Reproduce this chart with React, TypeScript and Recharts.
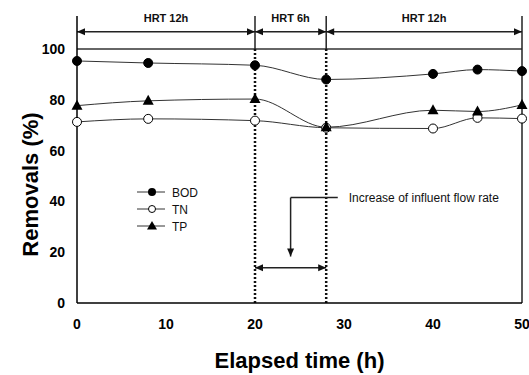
import React from "react";
import { LineChart, Line, XAxis, YAxis, ReferenceLine, Legend } from "recharts";

const times = [0, 8, 20, 28, 40, 45, 50];
const bod = [95.3, 94.5, 93.6, 88, 90.2, 91.9, 91.3];
const tn = [71.3, 72.5, 71.8, 69, 68.7, 72.9, 72.6];
const tp = [77.7, 79.6, 80.3, 69.2, 75.9, 75.4, 78.0];
const xTicks = [0, 10, 20, 30, 40, 50];
const yTicks = [0, 20, 40, 60, 80, 100];
const periods = [
  { from: 0, to: 20, label: "HRT 12h" },
  { from: 20, to: 28, label: "HRT 6h" },
  { from: 28, to: 50, label: "HRT 12h" },
];

const data = times.map((t, i) => ({ t, bod: bod[i], tn: tn[i], tp: tp[i] }));

const FONT = "'Liberation Sans', Arial, sans-serif";

function head(x: number, y: number, dx: number, dy: number, key: string) {
  // triangle pointing in direction (dx, dy)
  const len = 8;
  const w = 3.5;
  const bx = x - dx * len;
  const by = y - dy * len;
  const px = -dy * w;
  const py = dx * w;
  return (
    <polygon
      key={key}
      points={`${x},${y} ${bx + px},${by + py} ${bx - px},${by - py}`}
      fill="#111"
    />
  );
}

function ArrowShape(p: any, opts: { start?: boolean; end?: boolean; text?: string; note?: string }) {
  const { x1, y1, x2, y2 } = p;
  const L = Math.hypot(x2 - x1, y2 - y1) || 1;
  const dx = (x2 - x1) / L;
  const dy = (y2 - y1) / L;
  return (
    <g>
      <line x1={x1} y1={y1} x2={x2} y2={y2} stroke="#222" strokeWidth={1.5} />
      {opts.start && head(x1, y1, -dx, -dy, "s")}
      {opts.end && head(x2, y2, dx, dy, "e")}
      {opts.text && (
        <text x={(x1 + x2) / 2} y={y1 - 10} textAnchor="middle" fontFamily={FONT} fontWeight="bold" fontSize={11} fill="#111">
          {opts.text}
        </text>
      )}
      {opts.note && (
        <text x={x2 + 11} y={y2 + 4} textAnchor="start" fontFamily={FONT} fontSize={12} fill="#111">
          {opts.note}
        </text>
      )}
    </g>
  );
}

const Triangle = (p: any) => {
  const { cx, cy } = p;
  if (cx == null || cy == null) return null;
  return <polygon points={`${cx},${cy - 6} ${cx - 5.5},${cy + 4} ${cx + 5.5},${cy + 4}`} fill="#000" />;
};

const legendItems = [
  { name: "BOD", kind: "fill" },
  { name: "TN", kind: "open" },
  { name: "TP", kind: "tri" },
];

const LegendBox = () => (
  <svg width={80} height={56}>
    {legendItems.map((it, i) => {
      const y = 8 + i * 17;
      return (
        <g key={it.name}>
          <line x1={0} y1={y} x2={28} y2={y} stroke="#333" strokeWidth={1} />
          {it.kind === "fill" && <circle cx={15} cy={y} r={4} fill="#000" />}
          {it.kind === "open" && <circle cx={15} cy={y} r={3.5} fill="#fff" stroke="#000" />}
          {it.kind === "tri" && <polygon points={`15,${y - 5} 10,${y + 3.5} 20,${y + 3.5}`} fill="#000" />}
          <text x={35} y={y + 4.5} fontFamily={FONT} fontSize={12} fill="#111">
            {it.name}
          </text>
        </g>
      );
    })}
  </svg>
);

export default function App() {
  return (
    <div style={{ position: "absolute", left: 0, top: 0, background: "#fff" }}>
      <LineChart width={529} height={375} data={data} margin={{ top: 16, right: 7, left: 0, bottom: 0 }}>
        <XAxis
          dataKey="t"
          type="number"
          domain={[0, 50]}
          ticks={xTicks}
          height={72}
          tickLine={false}
          tickSize={0}
          tickMargin={16}
          axisLine={{ stroke: "#000", strokeWidth: 1.5 }}
          tick={{ fill: "#000", fontFamily: FONT, fontWeight: "bold", fontSize: 14 }}
          label={{
            value: "Elapsed time (h)",
            position: "insideBottom",
            offset: 7,
            style: { fontFamily: FONT, fontWeight: "bold", fontSize: 22, fill: "#000" },
          }}
        />
        <YAxis
          type="number"
          domain={[0, 113]}
          ticks={yTicks}
          width={77}
          tickLine={false}
          tickSize={0}
          tickMargin={12}
          axisLine={{ stroke: "#000", strokeWidth: 1.5 }}
          tick={{ fill: "#000", fontFamily: FONT, fontWeight: "bold", fontSize: 14 }}
          label={(p: any) => {
            const vb = p.viewBox || { x: 0, y: 16, width: 77, height: 287 };
            const cx = 30;
            const cy = vb.y + vb.height / 2 + 25;
            return (
              <text
                x={cx}
                y={cy}
                transform={`rotate(-90, ${cx}, ${cy})`}
                textAnchor="middle"
                dominantBaseline="central"
                fontFamily={FONT}
                fontWeight="bold"
                fontSize={22}
                fill="#000"
              >
                Removals (%)
              </text>
            );
          }}
        />
        <ReferenceLine y={100} stroke="#333" strokeWidth={1.5} />
        <ReferenceLine segment={[{ x: 50, y: 0 }, { x: 50, y: 113 }]} stroke="#222" strokeWidth={1.5} />
        {[20, 28].map((x) => (
          <ReferenceLine key={`d${x}`} segment={[{ x, y: 0 }, { x, y: 100 }]} stroke="#111" strokeWidth={2.5} strokeDasharray="2 2" />
        ))}
        {[20, 28].map((x) => (
          <ReferenceLine key={`s${x}`} segment={[{ x, y: 100 }, { x, y: 113 }]} stroke="#222" strokeWidth={1.5} />
        ))}
        {periods.map((pr, i) => (
          <ReferenceLine
            key={`p${i}`}
            segment={[{ x: pr.from, y: 106.8 }, { x: pr.to, y: 106.8 }]}
            shape={(p: any) => ArrowShape(p, { start: true, end: true, text: pr.label })}
          />
        ))}
        <ReferenceLine
          segment={[{ x: 24, y: 41.5 }, { x: 29.3, y: 41.5 }]}
          shape={(p: any) => ArrowShape(p, { note: "Increase of influent flow rate" })}
        />
        <ReferenceLine
          segment={[{ x: 24, y: 41.5 }, { x: 24, y: 18.3 }]}
          shape={(p: any) => ArrowShape(p, { end: true })}
        />
        <ReferenceLine
          segment={[{ x: 20, y: 13.9 }, { x: 28, y: 13.9 }]}
          shape={(p: any) => ArrowShape(p, { start: true, end: true })}
        />
        <Line
          dataKey="bod"
          type="monotone"
          stroke="#333"
          strokeWidth={1}
          dot={{ r: 4.5, fill: "#000", stroke: "#000", strokeWidth: 1 }}
          isAnimationActive={false}
        />
        <Line
          dataKey="tn"
          type="monotone"
          stroke="#333"
          strokeWidth={1}
          dot={{ r: 4.5, fill: "#fff", stroke: "#000", strokeWidth: 1 }}
          isAnimationActive={false}
        />
        <Line
          dataKey="tp"
          type="monotone"
          stroke="#333"
          strokeWidth={1}
          dot={<Triangle />}
          isAnimationActive={false}
        />
        <Legend
          layout="vertical"
          align="center"
          verticalAlign="middle"
          content={() => <LegendBox />}
          wrapperStyle={{ position: "absolute", left: 137, top: 184, width: 80, height: 56 }}
        />
      </LineChart>
    </div>
  );
}
